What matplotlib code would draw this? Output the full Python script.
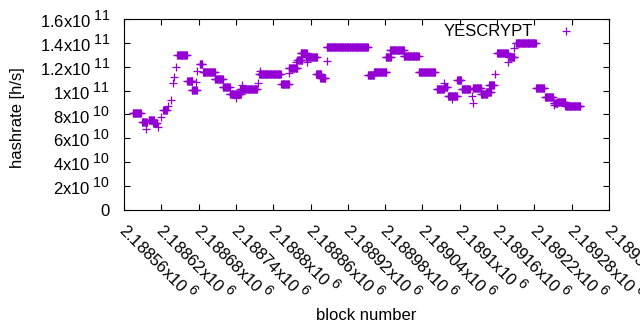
import numpy as np
import matplotlib
matplotlib.use("Agg")
import matplotlib.pyplot as plt
import matplotlib.transforms as mtransforms
import matplotlib._mathtext as mathtext_internal

plt.rcParams['font.family'] = ['Liberation Sans', 'DejaVu Sans']
plt.rcParams['mathtext.fontset'] = 'custom'
plt.rcParams['mathtext.rm'] = 'Liberation Sans'
plt.rcParams['font.size'] = 12
# gnuplot superscripts are only a bit smaller than the base text
mathtext_internal.SHRINK_FACTOR = 0.85

# runs of blocks with the same hashrate: first block, last block, hashrate (x1e10)
run_start = [2188574, 2188589, 2188596, 2188600, 2188607, 2188614, 2188620, 2188623,
             2188630, 2188635, 2188638, 2188640, 2188643, 2188646, 2188662, 2188675,
             2188669, 2188678, 2188682, 2188687, 2188706, 2188719, 2188730, 2188740,
             2188747, 2188750, 2188776, 2188779, 2188777, 2188813, 2188825, 2188825,
             2188836, 2188839, 2188844, 2188852, 2188854, 2188869, 2188876, 2188886,
             2188886, 2188952, 2188962, 2188981, 2188988, 2189010, 2189034, 2189063,
             2189074, 2189074, 2189081, 2189088, 2189096, 2189103, 2189119, 2189121,
             2189121, 2189134, 2189142, 2189147, 2189157, 2189160, 2189178, 2189179,
             2189187, 2189190, 2189223, 2189237, 2189251, 2189251, 2189257, 2189270]
run_end = [2188587, 2188597, 2188596, 2188608, 2188613, 2188614, 2188620, 2188629,
           2188630, 2188635, 2188638, 2188640, 2188643, 2188661, 2188670, 2188675,
           2188677, 2188678, 2188686, 2188706, 2188719, 2188730, 2188748, 2188740,
           2188774, 2188750, 2188776, 2188779, 2188812, 2188825, 2188825, 2188839,
           2188836, 2188847, 2188854, 2188870, 2188854, 2188877, 2188884, 2188886,
           2188952, 2188962, 2188982, 2188989, 2189010, 2189034, 2189060, 2189074,
           2189074, 2189080, 2189096, 2189088, 2189102, 2189116, 2189119, 2189121,
           2189134, 2189144, 2189150, 2189155, 2189157, 2189177, 2189178, 2189188,
           2189187, 2189222, 2189236, 2189250, 2189251, 2189257, 2189270, 2189294]
run_value = [8.10, 7.37, 6.81, 7.54, 7.29, 6.98, 7.77, 8.38,
             8.71, 9.21, 10.66, 11.17, 11.95, 12.96, 10.83, 10.75,
             10.03, 11.67, 12.21, 11.59, 11.00, 10.30, 9.69, 9.36,
             10.16, 10.47, 10.61, 11.67, 11.39, 10.56, 11.50, 11.87,
             12.40, 12.57, 13.13, 12.84, 12.42, 11.39, 11.08, 12.51,
             13.63, 11.35, 11.54, 12.79, 13.40, 12.86, 11.54, 10.11,
             10.66, 10.28, 9.59, 9.34, 10.89, 10.14, 9.52, 8.94,
             10.26, 9.72, 9.89, 10.47, 11.38, 13.13, 12.42, 12.84,
             13.55, 13.95, 10.24, 9.49, 8.80, 8.94, 9.05, 8.74]

x_ticks = [2188560, 2188620, 2188680, 2188740, 2188800, 2188860, 2188920,
           2188980, 2189040, 2189100, 2189160, 2189220, 2189280, 2189340]
y_ticks = [0, 2e10, 4e10, 6e10, 8e10, 1e11, 1.2e11, 1.4e11, 1.6e11]
y_labels = ['0', '2x10\u2009$^{10}$', '4x10\u2009$^{10}$', '6x10\u2009$^{10}$',
            '8x10\u2009$^{10}$', '1x10\u2009$^{11}$', '1.2x10\u2009$^{11}$',
            '1.4x10\u2009$^{11}$', '1.6x10\u2009$^{11}$']

blocks = np.concatenate([np.arange(s, e + 1) for s, e in zip(run_start, run_end)])
rates = np.concatenate([np.full(e - s + 1, v * 1e10)
                        for s, e, v in zip(run_start, run_end, run_value)])

fig = plt.figure(figsize=(6.4, 3.3), dpi=100)
ax = fig.add_axes([124 / 640, 120 / 330, 485 / 640, 191 / 330])

ax.plot(blocks, rates, linestyle='none', marker='+', color='#9400D3',
        markersize=5.2, markeredgewidth=0.9, label='YESCRYPT')

ax.set_xlim(x_ticks[0], x_ticks[-1])
ax.set_ylim(0, 1.6e11)
ax.set_xticks(x_ticks)
ax.set_xticklabels(['%gx10\u2009$^{6}$' % (v / 1e6) for v in x_ticks],
                   rotation=-45, ha='left', va='center_baseline',
                   rotation_mode='anchor')
shift = mtransforms.ScaledTranslation(4 / 100, 0, fig.dpi_scale_trans)
for lab in ax.get_xticklabels():
    lab.set_transform(lab.get_transform() + shift)
ax.set_yticks(y_ticks)
ax.set_yticklabels(y_labels)
ax.tick_params(direction='in', top=True, right=True, length=4, width=0.8)
ax.tick_params(axis='y', pad=10)
ax.tick_params(axis='x', pad=11)
for s in ax.spines.values():
    s.set_linewidth(0.8)

ax.set_xlabel('block number', va='center')
ax.xaxis.set_label_coords(0.5, -(315 - 210) / 191)
ax.set_ylabel('hashrate [h/s]', va='center')
ax.yaxis.set_label_coords(-(124 - 18) / 485, (210 - 118) / 191)

ax.legend(loc='center right', bbox_to_anchor=(583 / 640, (330 - 32) / 330),
          bbox_transform=fig.transFigure, frameon=False, markerfirst=False,
          borderpad=0, borderaxespad=0, handlelength=2, handletextpad=1.0)

fig.savefig('out.png', dpi=100)
